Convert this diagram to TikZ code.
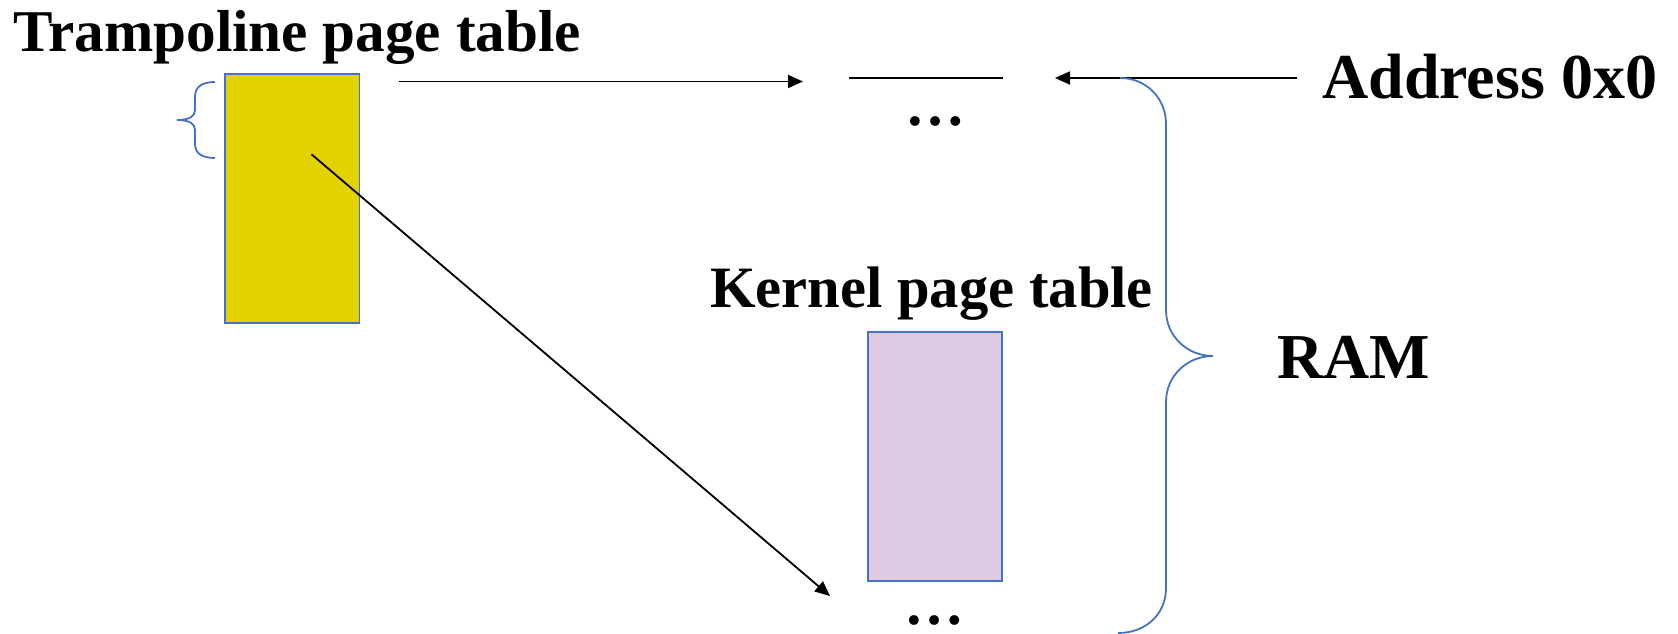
\documentclass[tikz,border=0pt]{standalone}
\usepackage{fontspec}
\setmainfont{Liberation Serif}
\usetikzlibrary{arrows.meta}
\definecolor{tyellow}{HTML}{E2D300}
\definecolor{kpurple}{HTML}{DFCCE4}
\definecolor{bblue}{HTML}{4472C4}
\tikzset{
  lbl/.style={inner sep=0pt, anchor=base west, font=\fontsize{59.2}{70}\selectfont\bfseries},
  biglbl/.style={inner sep=0pt, anchor=base west, font=\fontsize{64}{76}\selectfont\bfseries},
  dotsl/.style={inner sep=0pt, anchor=base, text height=10pt, text depth=0pt, font=\fontsize{60}{70}\selectfont\bfseries},
  tbl/.style={draw=bblue, line width=1.6pt},
  conn/.style={draw=black, line width=1.8pt},
  arr/.style={conn, -{Triangle[length=15pt,width=13pt]}},
  brace/.style={draw=bblue, line width=1.8pt}
}
\begin{document}
\begin{tikzpicture}[x=1pt,y=-1pt]
\useasboundingbox (0,0) rectangle (1678,634);
% texts
\node[lbl] (tramptxt) at (13,52) {Trampoline page table};
\node[lbl, font=\fontsize{58.6}{70}\selectfont\bfseries] (kerntxt) at (710,307) {Kernel page table};
\node[biglbl] (addrtxt) at (1322,98) {Address 0x0};
\node[biglbl] (ramtxt) at (1277,378) {RAM};
\node[dotsl] (dotstop) at (935.3,125.5) {…};
\node[dotsl] (dotsbot) at (934.6,624.5) {…};
% tables
\path[tbl, fill=tyellow] (225,74) rectangle (359.5,323);
\path[tbl, fill=kpurple] (868,332) rectangle (1002,581);
% connectors
\coordinate (a1s) at (399,81.5);
\coordinate (a1e) at (803,81.5);
\draw[arr] (a1s) -- (a1e);
\coordinate (l0s) at (849,78);
\coordinate (l0e) at (1003,78);
\draw[conn] (l0s) -- (l0e);
\coordinate (a2s) at (1297,78);
\coordinate (a2e) at (1055,78);
\draw[arr] (a2s) -- (a2e);
\coordinate (a3s) at (311.5,154.3);
\coordinate (a3e) at (830,596);
\draw[arr] (a3s) -- (a3e);
% small brace
\path[brace] (215,82) .. controls (203,82) and (195,86) .. (195,97) -- (195,110)
  .. controls (195,116) and (190,120) .. (177,120)
  .. controls (190,120) and (195,124) .. (195,130) -- (195,144)
  .. controls (195,154) and (203,158) .. (215,158);
% big brace
\path[brace] (1120,78) .. controls (1146,78) and (1166,98) .. (1166,124) -- (1166,310)
  .. controls (1166,336) and (1187,356) .. (1213,356)
  .. controls (1187,356) and (1166,376) .. (1166,402) -- (1166,588)
  .. controls (1166,614) and (1146,633) .. (1118,633);
\end{tikzpicture}
\end{document}
